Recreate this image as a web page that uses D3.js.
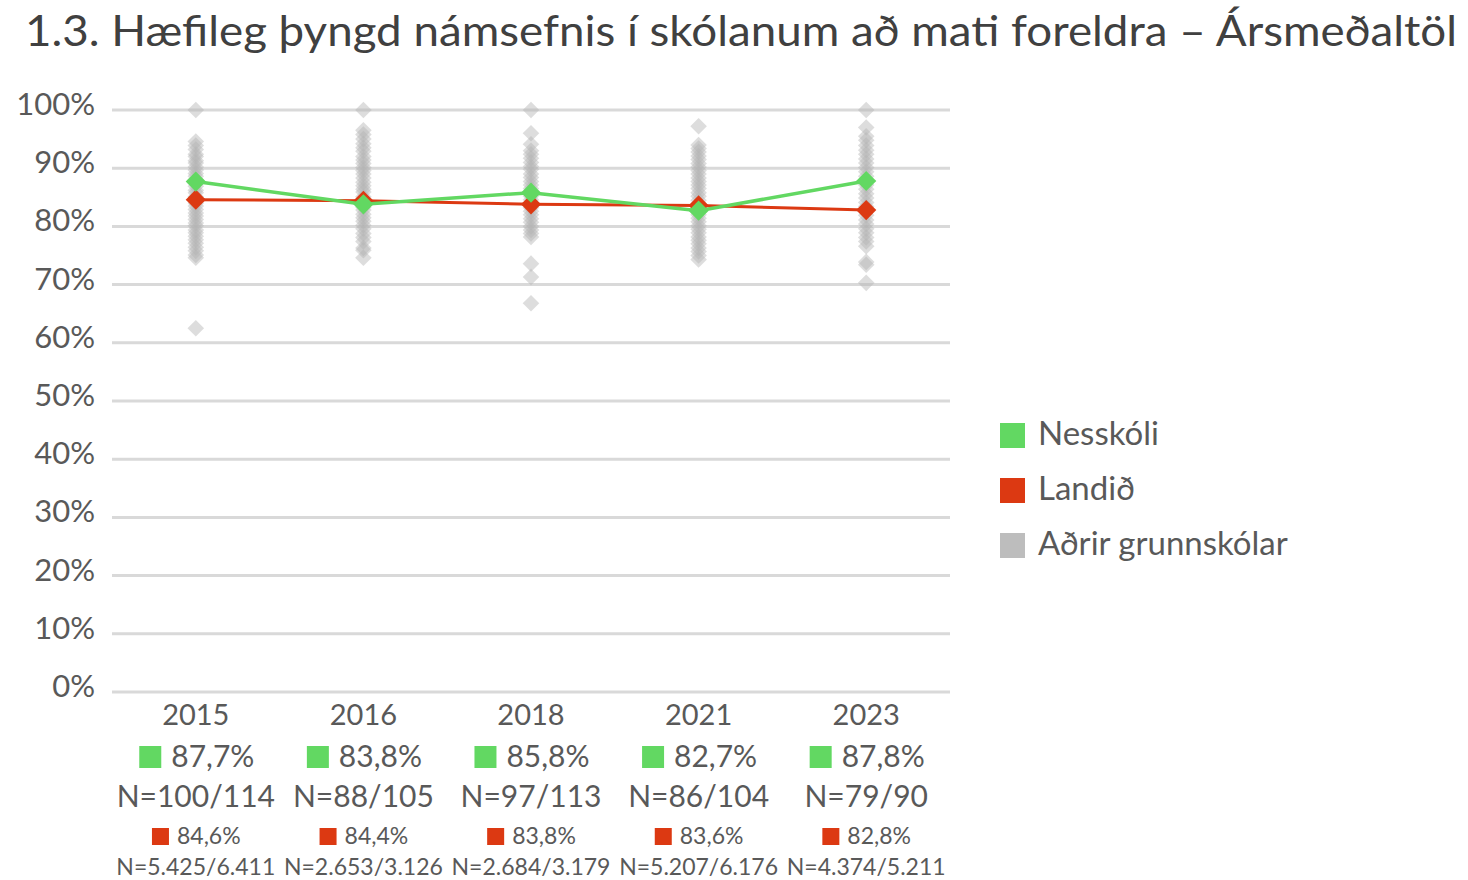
<!DOCTYPE html>
<html>
<head>
<meta charset="utf-8">
<script src="https://cdn.jsdelivr.net/npm/d3@7"></script>
<style>
  body { margin: 0; background: #fff; }
  text { font-family: Lato, "Open Sans", sans-serif; fill: #595959; }
</style>
</head>
<body>
<div id="chart"></div>
<script>
// chart data
var years = ["2015", "2016", "2018", "2021", "2023"];
var nesskoli = [87.7, 83.8, 85.8, 82.7, 87.8];
var landid = [84.6, 84.4, 83.8, 83.6, 82.8];
var nesskoliN = ["N=100/114", "N=88/105", "N=97/113", "N=86/104", "N=79/90"];
var landidN = ["N=5.425/6.411", "N=2.653/3.126", "N=2.684/3.179", "N=5.207/6.176", "N=4.374/5.211"];
var yTicks = [0, 10, 20, 30, 40, 50, 60, 70, 80, 90, 100];
var legendLabels = ["Nesskóli", "Landið", "Aðrir grunnskólar"];

// other schools, one list per year
var adrir2015 = [100, 94.6, 93.9, 93.2, 92.4, 92.0, 91.3, 90.9, 90.2, 89.7, 89.1, 88.6, 88.0, 87.4, 86.9, 86.2, 85.8, 85.1, 84.7, 84.0, 83.5, 82.9, 82.3, 81.8, 81.2, 80.6, 80.1, 79.4, 78.9, 78.3, 77.7, 77.1, 76.4, 75.8, 75.1, 74.6, 62.5];
var adrir2016 = [100, 96.5, 95.8, 95.0, 94.2, 93.5, 92.9, 92.0, 91.4, 90.8, 90.1, 89.6, 89.0, 88.3, 87.6, 87.0, 86.4, 85.9, 85.1, 84.7, 84.0, 83.3, 82.8, 82.1, 81.5, 80.9, 80.2, 79.6, 78.8, 78.1, 77.4, 76.3, 75.9, 74.6];
var adrir2018 = [100, 96.0, 94.1, 93.0, 92.4, 91.7, 91.0, 90.3, 89.8, 89.0, 88.4, 87.7, 87.1, 86.5, 85.9, 85.2, 84.6, 83.9, 83.2, 82.6, 82.0, 81.3, 80.7, 80.0, 79.4, 78.8, 78.2, 73.6, 71.3, 66.8];
var adrir2021 = [97.2, 94.0, 93.4, 92.8, 92.1, 91.5, 90.8, 90.2, 89.6, 89.0, 88.3, 87.7, 87.1, 86.5, 85.8, 85.2, 84.5, 83.9, 83.3, 82.6, 82.0, 81.4, 80.8, 80.1, 79.5, 78.9, 78.2, 77.6, 77.0, 76.3, 75.7, 75.0, 74.3];
var adrir2023 = [100, 97.0, 95.5, 94.8, 93.9, 93.1, 92.4, 91.6, 90.9, 90.1, 89.4, 88.6, 87.9, 87.1, 86.4, 85.6, 84.9, 84.1, 83.4, 82.6, 81.9, 81.1, 80.4, 79.6, 78.9, 78.1, 77.4, 76.6, 73.9, 73.4, 70.3];
var adrir = [adrir2015, adrir2016, adrir2018, adrir2021, adrir2023];

var green = "#62d862";
var red = "#dc3912";
var grey = "#bdbdbd";

var svg = d3.select("#chart").append("svg")
    .attr("width", 1468)
    .attr("height", 880);

// title
svg.append("text")
    .attr("x", 25)
    .attr("y", 46)
    .attr("textLength", 1432)
    .attr("lengthAdjust", "spacingAndGlyphs")
    .style("font-size", "42px")
    .style("fill", "#404040")
    .text("1.3. Hæfileg þyngd námsefnis í skólanum að mati foreldra – Ársmeðaltöl");

var plotLeft = 112, plotRight = 950, plotTop = 110, plotBottom = 692;

var xScale = d3.scaleBand()
    .domain(years)
    .range([plotLeft, plotRight]);

var yScale = d3.scaleLinear()
    .domain([0, 100])
    .range([plotBottom, plotTop]);

var cx = d => xScale(d) + xScale.bandwidth() / 2;

// gridlines
svg.append("g")
    .selectAll("line")
    .data(yTicks)
    .enter()
    .append("line")
    .attr("x1", plotLeft)
    .attr("x2", plotRight)
    .attr("y1", d => yScale(d))
    .attr("y2", d => yScale(d))
    .attr("stroke", "#d9d9d9")
    .attr("stroke-width", 3);

// y labels
svg.append("g")
    .selectAll("text")
    .data(yTicks)
    .enter()
    .append("text")
    .attr("x", 95)
    .attr("y", d => yScale(d) + 5)
    .attr("text-anchor", "end")
    .style("font-size", "31px")
    .text(d => d + "%");

var diamond = d3.symbol().type(d3.symbolDiamond2);

// grey points for other schools
adrir.forEach(function(vals, i) {
    svg.append("g")
        .selectAll("path")
        .data(vals)
        .enter()
        .append("path")
        .attr("d", diamond.size(175)())
        .attr("transform", d => `translate(${cx(years[i])}, ${yScale(d)})`)
        .attr("fill", "#b4b4b4")
        .attr("opacity", 0.45);
});

var line = d3.line()
    .x((d, i) => cx(years[i]))
    .y(d => yScale(d));

// Landið
svg.append("path")
    .datum(landid)
    .attr("d", line)
    .attr("fill", "none")
    .attr("stroke", red)
    .attr("stroke-width", 3);

svg.append("g")
    .selectAll("path")
    .data(landid)
    .enter()
    .append("path")
    .attr("d", diamond.size(260)())
    .attr("transform", (d, i) => `translate(${cx(years[i])}, ${yScale(d)})`)
    .attr("fill", red);

// Nesskóli
svg.append("path")
    .datum(nesskoli)
    .attr("d", line)
    .attr("fill", "none")
    .attr("stroke", green)
    .attr("stroke-width", 3.5);

svg.append("g")
    .selectAll("path")
    .data(nesskoli)
    .enter()
    .append("path")
    .attr("d", diamond.size(260)())
    .attr("transform", (d, i) => `translate(${cx(years[i])}, ${yScale(d)})`)
    .attr("fill", green);

// category labels under the chart
var fmt = v => v.toFixed(1).replace(".", ",") + "%";

var cat = svg.append("g")
    .selectAll("g")
    .data(years)
    .enter()
    .append("g")
    .attr("transform", d => `translate(${cx(d)}, 0)`);

cat.append("text")
    .attr("y", 725)
    .attr("text-anchor", "middle")
    .style("font-size", "29px")
    .text(d => d);

// green value line
var gRow = cat.append("g").attr("transform", "translate(0, 767)");
gRow.append("text")
    .attr("x", 17)
    .attr("text-anchor", "middle")
    .style("font-size", "30px")
    .text((d, i) => fmt(nesskoli[i]));
gRow.each(function(d, i) {
    var w = this.querySelector("text").getComputedTextLength();
    d3.select(this).append("rect")
        .attr("x", 17 - w / 2 - 32)
        .attr("y", -21)
        .attr("width", 22)
        .attr("height", 22)
        .attr("fill", green);
});

cat.append("text")
    .attr("y", 807)
    .attr("text-anchor", "middle")
    .style("font-size", "30px")
    .text((d, i) => nesskoliN[i]);

// red value line
var rRow = cat.append("g").attr("transform", "translate(0, 844)");
rRow.append("text")
    .attr("x", 13)
    .attr("text-anchor", "middle")
    .style("font-size", "23px")
    .text((d, i) => fmt(landid[i]));
rRow.each(function(d, i) {
    var w = this.querySelector("text").getComputedTextLength();
    d3.select(this).append("rect")
        .attr("x", 13 - w / 2 - 25)
        .attr("y", -16)
        .attr("width", 17)
        .attr("height", 17)
        .attr("fill", red);
});

cat.append("text")
    .attr("y", 875)
    .attr("text-anchor", "middle")
    .style("font-size", "23px")
    .text((d, i) => landidN[i]);

// legend
var legendColors = [green, red, grey];
var legend = svg.append("g")
    .selectAll("g")
    .data(legendLabels)
    .enter()
    .append("g")
    .attr("transform", (d, i) => `translate(1000, ${435 + i * 55})`);

legend.append("rect")
    .attr("y", -12)
    .attr("width", 25)
    .attr("height", 25)
    .attr("fill", (d, i) => legendColors[i]);

legend.append("text")
    .attr("x", 38)
    .attr("y", 10)
    .style("font-size", "33px")
    .text(d => d);
</script>
</body>
</html>
